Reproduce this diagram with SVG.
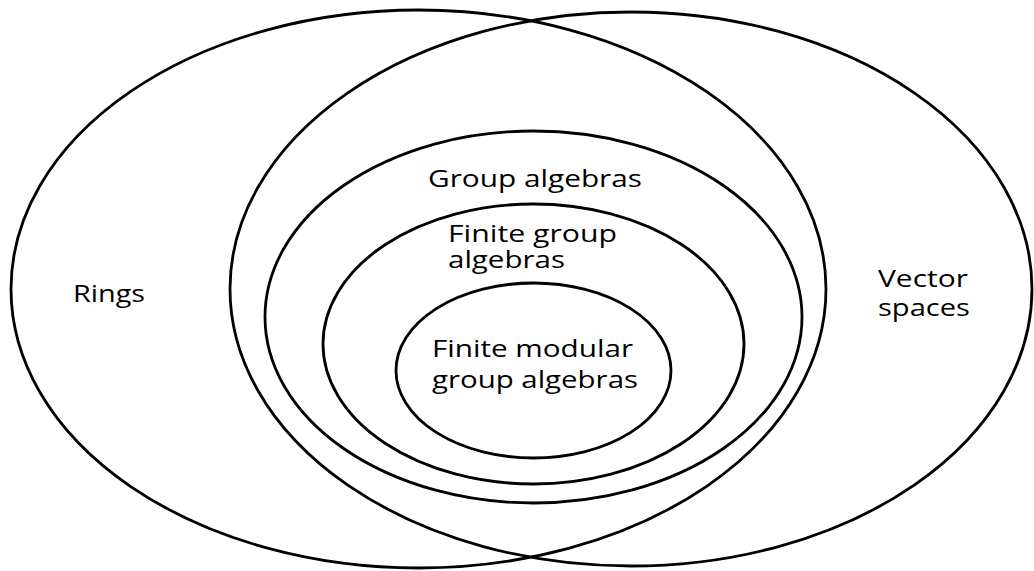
<svg xmlns="http://www.w3.org/2000/svg" width="1034" height="571" viewBox="0 0 1034 571">
<style>
.e{fill:none;stroke:#000;stroke-width:2.8}
.t{font-family:"Open Sans","Liberation Sans",sans-serif;font-size:24px;fill:#000}
</style>
<rect width="1034" height="571" fill="#fff"/>
<g id="rings"><ellipse class="e" cx="418.5" cy="289" rx="407.5" ry="279"/>
<text class="t" x="73" y="302" textLength="72" lengthAdjust="spacingAndGlyphs">Rings</text></g>
<g id="vector-spaces"><ellipse class="e" cx="631" cy="289" rx="401" ry="277"/>
<text class="t" x="878" y="287" textLength="90" lengthAdjust="spacingAndGlyphs">Vector</text>
<text class="t" x="878" y="316" textLength="92" lengthAdjust="spacingAndGlyphs">spaces</text></g>
<g id="group-algebras"><ellipse class="e" cx="533.5" cy="317" rx="268.5" ry="186"/>
<text class="t" x="428" y="187" textLength="214" lengthAdjust="spacingAndGlyphs">Group algebras</text></g>
<g id="finite-group-algebras"><ellipse class="e" cx="533.5" cy="344" rx="210.5" ry="140"/>
<text class="t" x="448" y="242" textLength="169" lengthAdjust="spacingAndGlyphs">Finite group</text>
<text class="t" x="448" y="268" textLength="117" lengthAdjust="spacingAndGlyphs">algebras</text></g>
<g id="finite-modular-group-algebras"><ellipse class="e" cx="533.5" cy="370.5" rx="137.5" ry="87.5"/>
<text class="t" x="432" y="357" textLength="201" lengthAdjust="spacingAndGlyphs">Finite modular</text>
<text class="t" x="432" y="388" textLength="206" lengthAdjust="spacingAndGlyphs">group algebras</text></g>
<g id="connectors"/>
</svg>
